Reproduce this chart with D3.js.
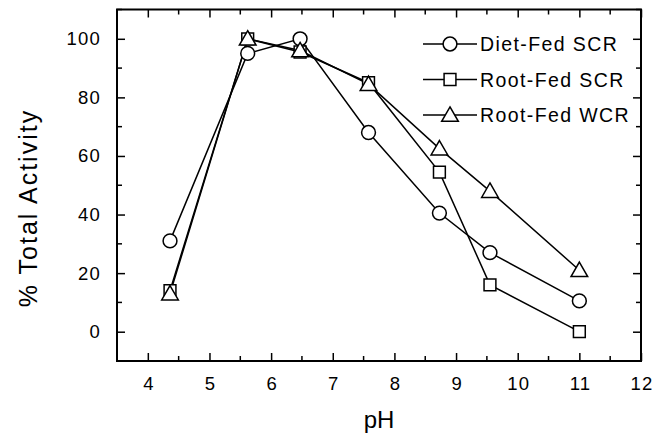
<!DOCTYPE html>
<meta charset="utf-8">
<style>
body { margin: 0; background: white; }
text { font-family: "Liberation Sans", Arial, sans-serif; fill: black; }
.series { fill: none; stroke: black; stroke-width: 1.5px; }
.marker { fill: white; stroke: black; stroke-width: 1.5px; }
</style>
<svg width="664" height="435"></svg>
<script src="https://cdnjs.cloudflare.com/ajax/libs/d3/7.8.5/d3.min.js"></script>
<script>

var phValues = [4.36, 5.62, 6.47, 7.58, 8.73, 9.55, 11.0];
var dietFedSCR = [31, 95, 100, 68, 40.5, 27, 10.5];
var rootFedSCR = [14, 100, 95.5, 85, 54.5, 16, 0];
var rootFedWCR = [13, 100, 96, 84.5, 62.5, 48, 21];
var seriesNames = ["Diet-Fed SCR", "Root-Fed SCR", "Root-Fed WCR"];
var xTicks = [4, 5, 6, 7, 8, 9, 10, 11, 12];
var yTicks = [0, 20, 40, 60, 80, 100];

var svg = d3.select("svg"),
    margin = {top: 9.5, right: 23, bottom: 74, left: 117},
    width = +svg.attr("width") - margin.left - margin.right,
    height = +svg.attr("height") - margin.top - margin.bottom;

var x = d3.scaleLinear().domain([3.5, 12]).range([0, width]),
    y = d3.scaleLinear().domain([-10, 110]).range([height, 0]);

var g = svg.append("g")
    .attr("transform", "translate(" + margin.left + "," + margin.top + ")");

var xMinor = d3.range(3.5, 12.01, 0.5).filter(function(v) { return v % 1 !== 0; }),
    yMinor = d3.range(-10, 111, 20);

// bottom
var bx = g.append("g").attr("transform", "translate(0," + height + ")")
    .call(d3.axisBottom(x).tickValues(xTicks).tickSizeInner(-8).tickSizeOuter(0).tickPadding(16));
bx.select(".domain").remove();
bx.selectAll("text").attr("font-size", 18.5).attr("dy", "0.71em")
    .style("letter-spacing", "1.2px").attr("dx", 0.6);
bx.selectAll(".mn").data(xMinor).enter().append("line")
    .attr("x1", function(d) { return x(d); }).attr("x2", function(d) { return x(d); })
    .attr("y1", 0).attr("y2", -5);

// top
var tx = g.append("g")
    .call(d3.axisTop(x).tickValues(xTicks).tickSizeInner(-8).tickSizeOuter(0).tickFormat(""));
tx.select(".domain").remove();
tx.selectAll(".mn").data(xMinor).enter().append("line")
    .attr("x1", function(d) { return x(d); }).attr("x2", function(d) { return x(d); })
    .attr("y1", 0).attr("y2", 5);

// left
var ly = g.append("g")
    .call(d3.axisLeft(y).tickValues(yTicks).tickSizeInner(-8).tickSizeOuter(0).tickPadding(16));
ly.select(".domain").remove();
ly.selectAll("text").attr("font-size", 18.5).style("letter-spacing", "1.2px");
ly.selectAll(".mn").data(yMinor).enter().append("line")
    .attr("y1", function(d) { return y(d); }).attr("y2", function(d) { return y(d); })
    .attr("x1", 0).attr("x2", 5);

// right
var ry = g.append("g").attr("transform", "translate(" + width + ",0)")
    .call(d3.axisRight(y).tickValues(yTicks).tickSizeInner(-8).tickSizeOuter(0).tickFormat(""));
ry.select(".domain").remove();
ry.selectAll(".mn").data(yMinor).enter().append("line")
    .attr("y1", function(d) { return y(d); }).attr("y2", function(d) { return y(d); })
    .attr("x1", 0).attr("x2", -5);

g.selectAll(".tick line").attr("stroke", "black").attr("stroke-width", 1.5);
g.selectAll("g > line").attr("stroke", "black").attr("stroke-width", 1.5);

// frame
g.append("rect")
    .attr("width", width).attr("height", height)
    .attr("fill", "none").attr("stroke", "black").attr("stroke-width", 2);

// axis titles
svg.append("text")
    .attr("x", margin.left + x(7.75)).attr("y", 428)
    .attr("text-anchor", "middle").attr("font-size", 24)
    .text("pH");

svg.append("text")
    .attr("transform", "translate(37,208) rotate(-90)")
    .attr("text-anchor", "middle").attr("font-size", 25)
    .style("letter-spacing", "2px")
    .text("% Total Activity");

var symbols = [d3.symbolCircle, d3.symbolSquare, d3.symbolTriangle];
var symSizes = [150, 140, 120];
var allSeries = [dietFedSCR, rootFedSCR, rootFedWCR];

var line = d3.line()
    .x(function(d) { return x(d[0]); })
    .y(function(d) { return y(d[1]); });

allSeries.forEach(function(vals) {
  g.append("path")
      .datum(d3.zip(phValues, vals))
      .attr("class", "series")
      .attr("d", line);
});

allSeries.forEach(function(vals, i) {
  var sym = d3.symbol().type(symbols[i]).size(symSizes[i]);
  g.selectAll(".m" + i)
    .data(d3.zip(phValues, vals))
    .enter().append("path")
      .attr("class", "marker m" + i)
      .attr("transform", function(d) {
        var dy = i === 2 ? 1.5 : 0;
        return "translate(" + x(d[0]) + "," + (y(d[1]) + dy) + ")";
      })
      .attr("d", sym);
});

// legend
var legend = svg.append("g").attr("transform", "translate(423,44)");
seriesNames.forEach(function(name, i) {
  var row = legend.append("g").attr("transform", "translate(0," + (i * 35.5) + ")");
  row.append("line").attr("x1", 0).attr("x2", 54).attr("y1", 0).attr("y2", 0)
      .attr("stroke", "black").attr("stroke-width", 1.5);
  row.append("path").attr("class", "marker")
      .attr("transform", "translate(27," + (i === 2 ? 1.5 : 0) + ")")
      .attr("d", d3.symbol().type(symbols[i]).size(symSizes[i]));
  row.append("text").attr("x", 57).attr("y", 0).attr("dy", "0.36em")
      .attr("font-size", 19.5).style("letter-spacing", "1.4px").text(name);
});

</script>
